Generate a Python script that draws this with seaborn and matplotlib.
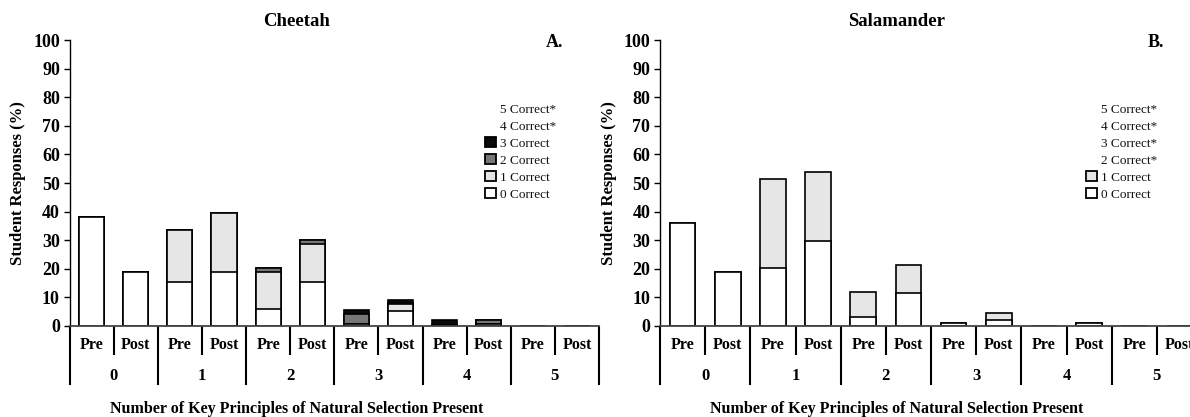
import numpy as np
import pandas as pd
import matplotlib
matplotlib.use("Agg")
import matplotlib.pyplot as plt
import matplotlib.patches as mpatches
import matplotlib.transforms as mtransforms
import seaborn as sns

# ---- data -------------------------------------------------------------
groups = ["0", "1", "2", "3", "4", "5"]
phases = ["Pre", "Post"]

# Cheetah: % of student responses by number of correct key principles
cheetah_0 = [38.2, 19.0, 15.5, 19.0, 5.8, 15.5, 0.8, 5.2, 0.5, 0.8, 0, 0]
cheetah_1 = [0, 0, 18.0, 20.4, 13.2, 13.2, 0, 2.4, 0, 0, 0, 0]
cheetah_2 = [0, 0, 0, 0, 1.3, 1.4, 3.4, 0.5, 0, 1.2, 0, 0]
cheetah_3 = [0, 0, 0, 0, 0, 0, 1.4, 1.1, 1.5, 0, 0, 0]

# Salamander
salamander_0 = [35.9, 19.0, 20.2, 29.8, 3.3, 11.7, 0.9, 2.1, 0, 0.9, 0, 0]
salamander_1 = [0, 0, 31.2, 24.0, 8.5, 9.6, 0, 2.5, 0, 0, 0, 0]

cheetah_labels = ["5 Correct*", "4 Correct*", "3 Correct", "2 Correct", "1 Correct", "0 Correct"]
salamander_labels = ["5 Correct*", "4 Correct*", "3 Correct*", "2 Correct*", "1 Correct", "0 Correct"]

yticks = list(range(0, 101, 10))

# ---- style ------------------------------------------------------------
sns.set_theme(style="white")
plt.rcParams["font.family"] = ["Liberation Serif", "DejaVu Serif"]
plt.rcParams["text.color"] = "black"
plt.rcParams["axes.labelcolor"] = "black"
plt.rcParams["xtick.color"] = "black"
plt.rcParams["ytick.color"] = "black"

fill_colors = ["#ffffff", "#e6e6e6", "#777777", "#0a0a0a"]

slots = [f"{g}-{p}" for g in groups for p in phases]


def long_frame(series):
    rows = []
    for k, vals in enumerate(series):
        for s, v in zip(slots, vals):
            rows.append({"slot": s, "level": k, "value": v})
    df = pd.DataFrame(rows)
    df["cum"] = df.groupby("slot")["value"].cumsum()
    return df


def draw_panel(ax, series, labels, title, letter, legend_xy, title_x):
    df = long_frame(series)
    # overlay cumulative bars from the highest level down so each stack shows
    for k in reversed(range(len(series))):
        sub = df[df["level"] == k]
        sns.barplot(data=sub, x="slot", y="cum", order=slots, color=fill_colors[k],
                    saturation=1, edgecolor="black", linewidth=1.2, width=0.57,
                    errorbar=None, ax=ax)

    ax.set_xlim(-0.5, len(slots) - 0.5)
    ax.set_ylim(0, 100)
    ax.set_yticks(yticks)
    ax.set_yticklabels([str(t) for t in yticks], fontweight="bold", fontsize=13)
    ax.tick_params(axis="y", which="major", direction="out", length=4, width=1,
                   color="black", labelcolor="black", pad=3, left=True)
    ax.set_xticks([])
    ax.set_xlabel("")
    ax.set_ylabel("Student Responses (%)", fontweight="bold", fontsize=12, labelpad=5,
                  color="black")
    for side in ["top", "right"]:
        ax.spines[side].set_visible(False)
    ax.spines["left"].set_color("black")
    ax.spines["left"].set_linewidth(1.0)
    ax.spines["bottom"].set_color("#444444")
    ax.spines["bottom"].set_linewidth(1.3)

    # category axis: Pre/Post row and group row with divider ticks
    trans = mtransforms.blended_transform_factory(ax.transData, ax.transAxes)
    for i in range(len(slots) + 1):
        b = i - 0.5
        y_end = -0.206 if i % 2 == 0 else -0.101
        ax.plot([b, b], [0, y_end], transform=trans, color="black", lw=1.5,
                clip_on=False, solid_capstyle="butt")
    for i, s in enumerate(slots):
        ax.text(i, -0.066, s.split("-")[1], transform=trans, ha="center", va="center",
                fontweight="bold", fontsize=11.5, color="black")
    for j, g in enumerate(groups):
        ax.text(2 * j + 0.5, -0.175, g, transform=trans, ha="center", va="center",
                fontweight="bold", fontsize=12, color="black")

    fig = ax.figure
    fig.text(title_x / 1190, 1 - 22 / 417, title, ha="center", va="center",
             fontweight="bold", fontsize=13.5, color="black")
    fig.text(title_x / 1190, 1 - 409 / 417,
             "Number of Key Principles of Natural Selection Present",
             ha="center", va="center", fontweight="bold", fontsize=11.5, color="black")
    ax.text(0.9, 0.99, letter, transform=ax.transAxes, ha="left", va="center",
            fontweight="bold", fontsize=13, color="black")

    # legend: levels without a colour are listed as text only
    handles = []
    n_colored = len(series)
    for idx, lab in enumerate(labels):
        level = len(labels) - 1 - idx
        if level < n_colored:
            handles.append(mpatches.Patch(facecolor=fill_colors[level], edgecolor="black",
                                          linewidth=1.3, label=lab))
        else:
            handles.append(mpatches.Patch(facecolor="none", edgecolor="none", label=lab))
    leg = ax.legend(handles=handles, loc="upper left",
                    bbox_to_anchor=(legend_xy[0] / 1190, 1 - legend_xy[1] / 417),
                    bbox_transform=fig.transFigure, frameon=False,
                    fontsize=9.5, handlelength=0.8, handleheight=0.8,
                    handletextpad=0.35, labelspacing=0.33, borderpad=0, borderaxespad=0)
    for t in leg.get_texts():
        t.set_fontfamily(["Liberation Serif", "DejaVu Serif"])
        t.set_color("#111111")


fig = plt.figure(figsize=(11.9, 4.17), dpi=100)
ax_a = fig.add_axes([69.6 / 1190, 1 - 326 / 417, (599 - 69.6) / 1190, 286 / 417])
ax_b = fig.add_axes([660 / 1190, 1 - 326 / 417, (1202 - 660) / 1190, 286 / 417])

draw_panel(ax_a, [cheetah_0, cheetah_1, cheetah_2, cheetah_3], cheetah_labels,
           "Cheetah", "A.", (485, 103), 297)
draw_panel(ax_b, [salamander_0, salamander_1], salamander_labels,
           "Salamander", "B.", (1086, 103), 897)

fig.savefig("out.png", dpi=100)
